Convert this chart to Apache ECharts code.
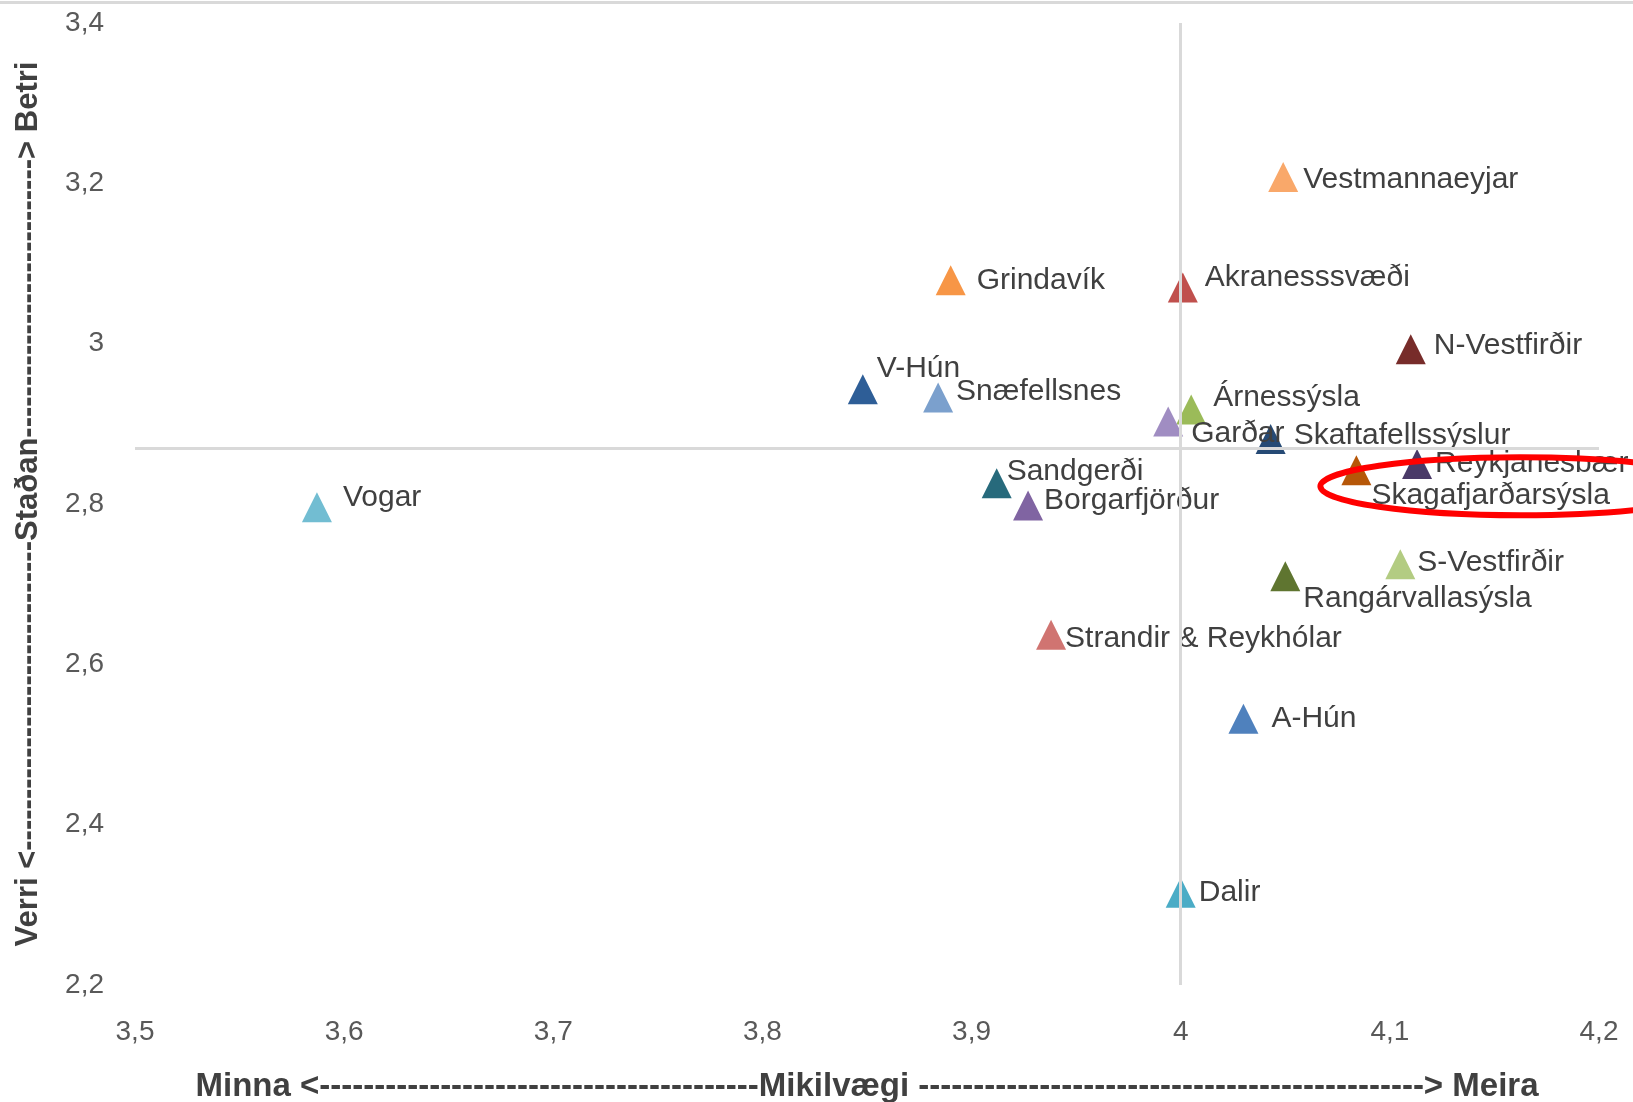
<!DOCTYPE html>
<html><head><meta charset="utf-8">
<script src="https://cdn.jsdelivr.net/npm/echarts@6/dist/echarts.min.js"></script>
<style>html,body{margin:0;padding:0;background:#fff}#c{width:1633px;height:1102px}</style>
</head><body><div id="c"></div>
<script>
// ---- data ----
const names = ['Vestmannaeyjar','Grindavík','Akranesssvæði','N-Vestfirðir','V-Hún','Snæfellsnes','Árnessýsla','Garðar','Skaftafellssýslur','Reykjanesbær','Skagafjarðarsýsla','Sandgerði','Borgarfjörður','Vogar','S-Vestfirðir','Rangárvallasýsla','Strandir & Reykhólar','A-Hún','Dalir'];
const mikilvaegi = [4.049,3.890,4.001,4.110,3.848,3.884,4.005,3.994,4.043,4.113,4.084,3.912,3.927,3.587,4.105,4.050,3.938,4.030,4.000];
const stadan     = [3.208,3.079,3.070,2.993,2.943,2.933,2.918,2.903,2.881,2.850,2.842,2.826,2.798,2.796,2.725,2.710,2.637,2.532,2.315];
const xAxisRange = [3.5, 4.2, 0.1];
const yAxisRange = [2.2, 3.4, 0.2];
const crossX = 3.998;
const crossY = 2.872;
const highlighted = 'Skagafjarðarsýsla';
const xTitle = 'Minna <' + '-'.repeat(40) + 'Mikilvægi ' + '-'.repeat(46) + '> Meira';
const yTitle = 'Verri <' + '-'.repeat(30) + 'Staðan' + '-'.repeat(27) + '> Betri';

// ---- styles ----
const colors = ['#F9A86A','#F79646','#C0504D','#772C2A','#2E5E97','#7BA0CD','#9BBB59','#A08DC2','#264A75','#4A3A68','#B65708','#276A7C','#8064A2','#72BDD2','#B3CC82','#5F7530','#D07471','#4F81BD','#4BACC6'];
const labelOffsets = [[20,3],[26,0],[22,-10],[23,-4],[14,-21],[18,-6],[22,-12],[23,12],[23,-3],[18,0],[15,25],[10,-11],[16,-5],[26,-9],[17,-1],[18,23],[14,4],[28,0],[18,0]];
const SYM = 30;
const FONT = 'Liberation Sans, Arial, sans-serif';

const fmt = v => String(+(+v).toFixed(2)).replace('.', ',');

const data = names.map((n, i) => ({
  name: n,
  value: [mikilvaegi[i], stadan[i]],
  itemStyle: { color: colors[i], opacity: 1 },
  label: {
    show: true,
    formatter: n,
    position: [SYM/2 + labelOffsets[i][0], SYM/2 + labelOffsets[i][1]],
    align: 'left',
    verticalAlign: 'middle'
  }
}));

const chart = echarts.init(document.getElementById('c'), null, {renderer: 'canvas'});
chart.setOption({
  animation: false,
  backgroundColor: '#fff',
  grid: { left: 135, right: 34, top: 23, bottom: 117, containLabel: false, outerBoundsMode: 'none' },
  xAxis: {
    type: 'value', min: xAxisRange[0], max: xAxisRange[1], interval: xAxisRange[2],
    axisLine: { show: false }, axisTick: { show: false }, splitLine: { show: false },
    axisLabel: { formatter: fmt, color: '#595959', fontSize: 28, fontFamily: FONT, margin: 33 },
    name: xTitle, nameLocation: 'middle', nameGap: 85,
    nameTextStyle: { fontSize: 33, fontWeight: 'bold', color: '#404040', fontFamily: FONT }
  },
  yAxis: {
    type: 'value', min: yAxisRange[0], max: yAxisRange[1], interval: yAxisRange[2],
    axisLine: { show: false }, axisTick: { show: false }, splitLine: { show: false },
    axisLabel: { formatter: fmt, color: '#595959', fontSize: 28, fontFamily: FONT, margin: 31,
                 padding: [5, 0, 0, 0] },
    name: yTitle, nameLocation: 'middle', nameGap: 91, nameRotate: 90,
    nameTextStyle: { fontSize: 31, fontWeight: 'bold', color: '#404040', fontFamily: FONT }
  },
  series: [{
    type: 'scatter',
    symbol: 'triangle',
    symbolSize: SYM,
    data: data,
    itemStyle: { opacity: 1 },
    label: { color: '#404040', fontSize: 30, fontFamily: FONT },
    emphasis: { disabled: true },
    markLine: {
      silent: true, symbol: 'none', animation: false,
      lineStyle: { color: '#d9d9d9', width: 3, type: 'solid' },
      label: { show: false },
      data: [{ xAxis: crossX }, { yAxis: crossY }]
    },
    z: 3
  }]
});

// annotation: top border + red ellipse around highlighted point
const hi = names.indexOf(highlighted);
const p = chart.convertToPixel({ seriesIndex: 0 }, [mikilvaegi[hi], stadan[hi]]);
chart.setOption({
  graphic: [
    { type: 'rect', left: 0, top: 1, shape: { width: 1633, height: 3 }, style: { fill: '#d9d9d9' }, z: 50 },
    { type: 'ellipse', shape: { cx: p[0] + 164, cy: p[1] + 16, rx: 200, ry: 29 },
      style: { fill: 'none', stroke: '#ff0000', lineWidth: 6 }, z: 100 }
  ]
});
</script>
</body></html>
